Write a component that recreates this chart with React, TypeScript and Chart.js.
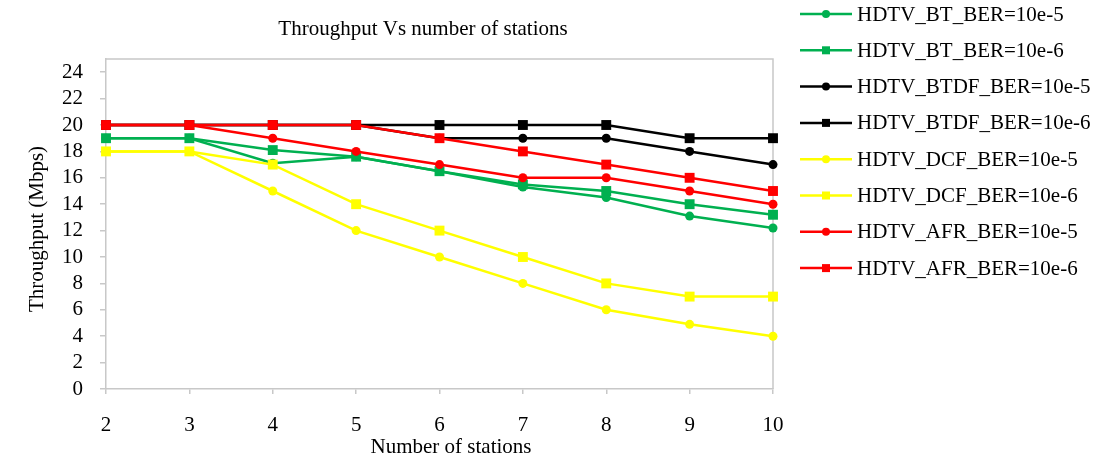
import React, { useEffect, useRef } from "react";
import { Chart, registerables } from "chart.js";

Chart.register(...registerables);

const stations = ["2", "3", "4", "5", "6", "7", "8", "9", "10"];
const btBer5 = [19, 19, 17.1, 17.6, 16.5, 15.3, 14.5, 13.1, 12.2];
const btBer6 = [19, 19, 18.1, 17.6, 16.5, 15.5, 15.0, 14.0, 13.2];
const btdfBer5 = [20, 20, 20, 20, 19, 19, 19, 18, 17];
const btdfBer6 = [20, 20, 20, 20, 20, 20, 20, 19, 19];
const dcfBer5 = [18, 18, 15, 12, 10, 8, 6, 4.9, 4];
const dcfBer6 = [18, 18, 17, 14, 12, 10, 8, 7, 7];
const afrBer5 = [20, 20, 19, 18, 17, 16, 16, 15, 14];
const afrBer6 = [20, 20, 20, 20, 19, 18, 17, 16, 15];
const yTicks = [0, 2, 4, 6, 8, 10, 12, 14, 16, 18, 20, 22, 24];

const seriesNames = [
  "HDTV_BT_BER=10e-5",
  "HDTV_BT_BER=10e-6",
  "HDTV_BTDF_BER=10e-5",
  "HDTV_BTDF_BER=10e-6",
  "HDTV_DCF_BER=10e-5",
  "HDTV_DCF_BER=10e-6",
  "HDTV_AFR_BER=10e-5",
  "HDTV_AFR_BER=10e-6",
];
const seriesData = [btBer5, btBer6, btdfBer5, btdfBer6, dcfBer5, dcfBer6, afrBer5, afrBer6];
const seriesColors = ["#00b050", "#00b050", "#000000", "#000000", "#ffff00", "#ffff00", "#ff0000", "#ff0000"];
const seriesStyles = ["circle", "rect", "circle", "rect", "circle", "rect", "circle", "rect"];

const FONT = '"Liberation Serif", "Times New Roman", serif';

const decorPlugin = {
  id: "decor",
  beforeDatasetsDraw(chart: any) {
    const { ctx, chartArea } = chart;
    ctx.save();
    ctx.strokeStyle = "#c8c8c8";
    ctx.lineWidth = 1.5;
    ctx.beginPath();
    ctx.moveTo(chartArea.left, chartArea.top);
    ctx.lineTo(chartArea.right, chartArea.top);
    ctx.lineTo(chartArea.right, chartArea.bottom);
    ctx.stroke();
    ctx.restore();
  },
  afterDraw(chart: any) {
    const { ctx } = chart;
    ctx.save();
    ctx.fillStyle = "#000";
    ctx.font = `21px ${FONT}`;
    ctx.textAlign = "center";
    ctx.textBaseline = "alphabetic";
    ctx.fillText("Throughput Vs number of stations", 423, 35);
    ctx.fillText("Number of stations", 451, 453);
    ctx.save();
    ctx.translate(37, 229);
    ctx.rotate(-Math.PI / 2);
    ctx.textBaseline = "middle";
    ctx.fillText("Throughput (Mbps)", 0, 0);
    ctx.restore();

    // legend
    ctx.textAlign = "left";
    ctx.textBaseline = "middle";
    for (let i = 0; i < seriesNames.length; i++) {
      const y = 14 + i * 36.3;
      ctx.strokeStyle = seriesColors[i];
      ctx.lineWidth = 2.5;
      ctx.beginPath();
      ctx.moveTo(800, y);
      ctx.lineTo(852, y);
      ctx.stroke();
      ctx.fillStyle = seriesColors[i];
      if (seriesStyles[i] === "circle") {
        ctx.beginPath();
        ctx.arc(826, y, 4, 0, Math.PI * 2);
        ctx.fill();
      } else {
        ctx.fillRect(822, y - 4, 8, 8);
      }
      ctx.fillStyle = "#000";
      ctx.fillText(seriesNames[i], 857, y + 1);
    }
    ctx.restore();
  },
};

export default function App() {
  const ref = useRef<HTMLCanvasElement>(null);
  useEffect(() => {
    document.body.style.margin = "0";
    const canvas = ref.current!;
    const chart = new Chart(canvas, {
      type: "line",
      data: {
        labels: stations,
        datasets: seriesData.map((d, i) => ({
          label: seriesNames[i],
          data: d,
          borderColor: seriesColors[i],
          backgroundColor: seriesColors[i],
          borderWidth: 2.5,
          pointStyle: seriesStyles[i] as any,
          pointRadius: seriesStyles[i] === "rect" ? 7 : 4.5,
          pointBorderWidth: 0,
          tension: 0,
          fill: false,
          clip: false as any,
          order: 8 - i,
        })),
      },
      options: {
        responsive: false,
        animation: false,
        devicePixelRatio: 1,
        layout: { padding: { left: 0, top: 59, right: 336, bottom: 0 } },
        plugins: {
          legend: { display: false },
          title: { display: false },
          tooltip: { enabled: false },
        },
        scales: {
          x: {
            type: "category",
            offset: false,
            grid: { drawOnChartArea: false, drawTicks: true, tickLength: 5, color: "#c8c8c8", lineWidth: 1.5 },
            border: { color: "#c8c8c8", width: 1.5 },
            ticks: { font: { family: FONT, size: 21 }, color: "#000", padding: 19, maxRotation: 0, autoSkip: false },
            afterFit: (scale: any) => {
              scale.height = 72;
            },
          },
          y: {
            min: 0,
            max: 25,
            grid: { drawOnChartArea: false, drawTicks: true, tickLength: 6, color: "#c8c8c8", lineWidth: 1.5 },
            border: { color: "#c8c8c8", width: 1.5 },
            ticks: { font: { family: FONT, size: 21 }, color: "#000", padding: 17, stepSize: 2, autoSkip: false },
            afterBuildTicks: (axis: any) => {
              axis.ticks = yTicks.map((v) => ({ value: v }));
            },
            afterFit: (scale: any) => {
              scale.width = 106;
            },
          },
        },
      },
      plugins: [decorPlugin],
    });
    return () => chart.destroy();
  }, []);
  return <canvas ref={ref} width={1109} height={461} style={{ display: "block", width: 1109, height: 461 }} />;
}
